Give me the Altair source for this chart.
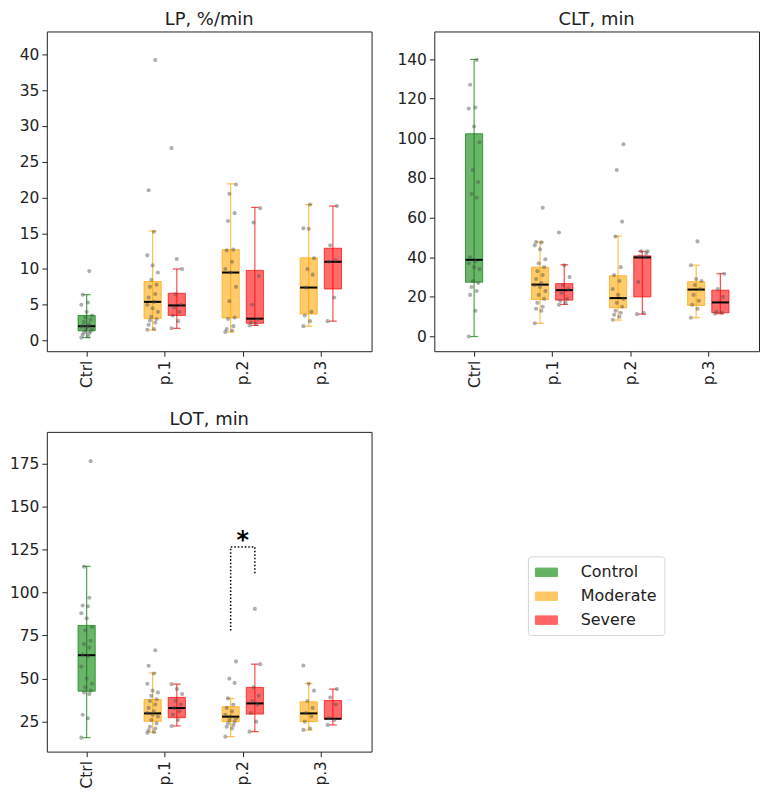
import altair as alt
import pandas as pd

# ---------------- data ----------------
categories = ["Ctrl", "p.1", "p.2", "p.3"]
groups = ["Control", "Moderate", "Severe"]
group_colors = ["green", "orange", "red"]
titles = ["LP, %/min", "CLT, min", "LOT, min"]

box_cat = [0, 1, 1, 2, 2, 3, 3]
box_group = ["Control", "Moderate", "Severe", "Moderate", "Severe", "Moderate", "Severe"]

# LP, %/min
lp_q1 = [1.35, 3.05, 3.5, 3.15, 2.4, 3.7, 7.2]
lp_med = [2.0, 5.4, 4.9, 9.5, 3.05, 7.4, 11.0]
lp_q3 = [3.5, 8.25, 6.6, 12.7, 9.8, 11.55, 12.9]
lp_lo = [0.4, 1.45, 1.7, 1.2, 2.1, 2.0, 2.7]
lp_hi = [6.4, 15.3, 10.0, 21.9, 18.6, 19.0, 18.8]
lp_ctrl = [0.4, 0.6, 0.8, 1.0, 1.1, 1.3, 1.4, 1.6, 1.8, 1.9, 2.0, 2.1, 2.3, 2.6, 2.9, 3.2, 3.5, 4.0, 5.0, 5.3, 6.4, 9.7]
lp_p1_mod = [1.5, 1.6, 2.2, 2.5, 2.8, 3.0, 3.3, 4.0, 4.5, 5.0, 5.4, 6.0, 6.5, 7.5, 7.8, 8.5, 9.5, 10.5, 11.9, 15.2, 21.0, 39.2]
lp_p1_sev = [1.7, 2.7, 3.5, 4.0, 4.6, 5.0, 6.5, 10.0, 11.4, 26.9]
lp_p2_mod = [1.2, 1.4, 1.6, 2.0, 3.0, 3.2, 5.5, 7.5, 9.5, 10.0, 11.0, 12.6, 12.7, 16.7, 17.8, 20.5, 21.8]
lp_p2_sev = [2.1, 2.3, 2.5, 3.0, 5.0, 9.0, 16.5, 18.5]
lp_p3_mod = [2.0, 2.7, 3.5, 4.0, 7.4, 9.2, 10.0, 11.5, 15.6, 15.7, 19.0]
lp_p3_sev = [2.7, 6.0, 11.0, 11.2, 13.3, 18.8]

# CLT, min
clt_q1 = [27.4, 18.7, 18.4, 14.5, 20.0, 15.7, 12.0]
clt_med = [38.7, 26.2, 23.4, 19.4, 39.9, 23.7, 17.2]
clt_q3 = [102.3, 35.0, 26.7, 30.7, 40.7, 27.7, 23.4]
clt_lo = [0.0, 6.7, 16.2, 8.3, 11.3, 9.5, 11.5]
clt_hi = [139.8, 47.7, 36.2, 50.7, 43.0, 36.0, 31.7]
clt_ctrl = [0, 13, 21, 23, 25, 27, 28, 34, 35, 37, 38, 40, 70, 72, 78, 84, 98, 106, 115, 115.5, 127, 139.5]
clt_p1_mod = [6.7, 13, 14, 15, 17, 19, 21, 23, 25, 26, 27, 29, 31, 33, 35, 37, 39, 44, 46, 47.5, 47.7, 65]
clt_p1_sev = [16, 17, 18, 19, 22, 24, 26, 30, 36, 52.5]
clt_p2_mod = [8.5, 10, 11, 12, 13, 15, 17, 19, 21, 24, 28, 31, 35, 50.5, 58, 84, 97]
clt_p2_sev = [11.3, 12, 27.5, 40, 40.5, 42, 43, 43]
clt_p3_mod = [9.5, 14, 16, 18, 21, 24, 26, 28, 29, 36, 48]
clt_p3_sev = [11.5, 12, 12.5, 20, 24, 31.7]

# LOT, min
lot_q1 = [42.7, 25.2, 27.3, 25.0, 29.4, 25.0, 26.5]
lot_med = [63.6, 29.8, 32.9, 27.9, 35.6, 29.8, 26.7]
lot_q3 = [80.9, 37.9, 39.1, 33.7, 44.9, 36.6, 37.3]
lot_lo = [15.7, 18.8, 22.5, 16.3, 19.2, 20.2, 23.1]
lot_hi = [115.2, 53.3, 46.8, 38.5, 58.4, 47.2, 43.9]
lot_ctrl = [15.7, 27, 29, 41, 42, 43, 45, 47, 50, 57, 63, 64, 68, 70, 72, 78, 80, 85, 88, 92, 92.5, 97, 115, 176.3]
lot_p1_mod = [18.5, 19, 20, 21, 22, 24, 26, 28, 29, 30, 31, 33, 35, 37, 38, 40, 42, 43, 47, 53, 57.5, 66.5]
lot_p1_sev = [22.5, 26, 29, 31, 33, 35, 37, 41, 44, 46.8]
lot_p2_mod = [16.3, 21, 22, 23, 24, 25, 26, 27, 28, 29, 31, 33, 35, 38.5, 47.5, 50, 60]
lot_p2_sev = [19.2, 25, 30, 35, 37, 40, 45, 58.4, 90.5]
lot_p3_mod = [20.2, 21, 25, 28, 30, 33, 37, 43, 47, 57.6]
lot_p3_sev = [23.1, 26, 27, 35, 39, 43.9]

# significance annotation (LOT, p.2 Moderate vs Severe)
sig_y = [78, 126.5, 126.5, 110.2]
sig_label = "*"

# ---------------- styling ----------------
FONT = "DejaVu Sans"
OFFSETS = {"Control": 0.0, "Moderate": -0.155, "Severe": 0.155}
BOX_HALF = 0.11
CAP_HALF = 0.05
W, H = 326, 321

xs = alt.Scale(domain=[-0.51, 3.65], nice=False, zero=False)
cs = alt.Scale(domain=groups, range=group_colors)

x_axis = alt.Axis(values=[0, 1, 2, 3], labelExpr="['Ctrl','p.1','p.2','p.3'][round(datum.value)]",
                  labelAngle=-90, title=None, grid=False, domain=False, tickSize=5,
                  labelPadding=4, minExtent=45, maxExtent=45)

legend = alt.Legend(title=None, orient="none", legendX=483, legendY=527,
                    symbolType="M-1,-0.5H1.6V0.5H-1Z", symbolSize=289, symbolOpacity=0.6,
                    symbolStrokeWidth=1,
                    labelFontSize=16, labelFont=FONT, labelColor="#222", labelOffset=28,
                    rowPadding=7, padding=7, strokeColor="#d6d6d6", fillColor="white",
                    cornerRadius=3)


def panel(title, q1, med, q3, lo, hi, pts, domain, ticks, sig=False):
    pos = [c + OFFSETS[g] for c, g in zip(box_cat, box_group)]
    bdf = pd.DataFrame({"pos": pos, "group": box_group, "q1": q1, "med": med,
                        "q3": q3, "lo": lo, "hi": hi})
    bdf["bl"] = bdf["pos"] - BOX_HALF
    bdf["br"] = bdf["pos"] + BOX_HALF
    bdf["cl"] = bdf["pos"] - CAP_HALF
    bdf["cr"] = bdf["pos"] + CAP_HALF

    rows = []
    for p, vals in zip(pos, pts):
        for k, v in enumerate(vals):
            jit = (((k * 5) % 9) - 4) * 0.017
            rows.append({"px": p + jit, "v": v})
    pdf = pd.DataFrame(rows)

    ys = alt.Scale(domain=domain, nice=False, zero=False)
    y_axis = alt.Axis(values=ticks, title=None, grid=False, domain=False, tickSize=5,
                      labelPadding=3, minExtent=38, maxExtent=38)

    base = alt.Chart(bdf)
    whisk = base.mark_rule(strokeWidth=1.2, opacity=0.7).encode(
        x=alt.X("pos:Q", scale=xs, axis=x_axis),
        y=alt.Y("lo:Q", scale=ys, axis=y_axis),
        y2="hi:Q",
        color=alt.Color("group:N", scale=cs, legend=legend),
    )
    cap_lo = base.mark_rule(strokeWidth=1.2, opacity=0.7).encode(
        x="cl:Q", x2="cr:Q", y="lo:Q", color=alt.Color("group:N", scale=cs, legend=legend))
    cap_hi = base.mark_rule(strokeWidth=1.2, opacity=0.7).encode(
        x="cl:Q", x2="cr:Q", y="hi:Q", color=alt.Color("group:N", scale=cs, legend=legend))
    box = base.mark_rect(fillOpacity=0.58, strokeOpacity=0.7, strokeWidth=1).encode(
        x="bl:Q", x2="br:Q", y="q1:Q", y2="q3:Q",
        fill=alt.Fill("group:N", scale=cs, legend=legend),
        stroke=alt.Stroke("group:N", scale=cs, legend=legend),
    )
    median = base.mark_rule(color="black", strokeWidth=2).encode(
        x="bl:Q", x2="br:Q", y="med:Q")
    points = alt.Chart(pdf).mark_circle(size=17, color="#4d4d4d", opacity=0.45).encode(
        x="px:Q", y="v:Q")

    layers = [whisk, cap_lo, cap_hi, box, median, points]
    if sig:
        sx = [2 + OFFSETS["Moderate"], 2 + OFFSETS["Moderate"],
              2 + OFFSETS["Severe"], 2 + OFFSETS["Severe"]]
        sdf = pd.DataFrame({"x": sx, "y": sig_y, "i": list(range(4))})
        bracket = alt.Chart(sdf).mark_line(color="black", strokeWidth=1.5,
                                           strokeDash=[1.5, 2]).encode(
            x="x:Q", y="y:Q", order="i:Q")
        tdf = pd.DataFrame({"x": [2.0], "y": [max(sig_y)], "t": [sig_label]})
        star = alt.Chart(tdf).mark_text(fontSize=24, fontWeight="bold", font=FONT,
                                        baseline="alphabetic", dy=1, color="black").encode(
            x="x:Q", y="y:Q", text="t:N")
        layers += [bracket, star]

    return alt.layer(*layers).properties(
        width=W, height=H,
        title=alt.TitleParams(title, fontSize=18, font=FONT, fontWeight="normal",
                              color="#222", offset=3, anchor="middle"),
    )


p1 = panel(titles[0], lp_q1, lp_med, lp_q3, lp_lo, lp_hi,
           [lp_ctrl, lp_p1_mod, lp_p1_sev, lp_p2_mod, lp_p2_sev, lp_p3_mod, lp_p3_sev],
           [-1.5, 43.2], [0, 5, 10, 15, 20, 25, 30, 35, 40])
p2 = panel(titles[1], clt_q1, clt_med, clt_q3, clt_lo, clt_hi,
           [clt_ctrl, clt_p1_mod, clt_p1_sev, clt_p2_mod, clt_p2_sev, clt_p3_mod, clt_p3_sev],
           [-7.4, 153.9], [0, 20, 40, 60, 80, 100, 120, 140])
p3 = panel(titles[2], lot_q1, lot_med, lot_q3, lot_lo, lot_hi,
           [lot_ctrl, lot_p1_mod, lot_p1_sev, lot_p2_mod, lot_p2_sev, lot_p3_mod, lot_p3_sev],
           [7.6, 193.3], [25, 50, 75, 100, 125, 150, 175], sig=True)

chart = alt.concat(p1, p2, p3, columns=2, spacing=alt.RowColnumber(column=23, row=13)).properties(
    padding={"left": 0, "top": 0, "right": 0, "bottom": 0}
).configure_view(
    stroke="#222", strokeWidth=1
).configure_axis(
    labelFont=FONT, labelFontSize=15.5, labelColor="#222", tickColor="#222", tickWidth=1
)

chart.save("out.html", embed_options={"renderer": "svg", "actions": False})
